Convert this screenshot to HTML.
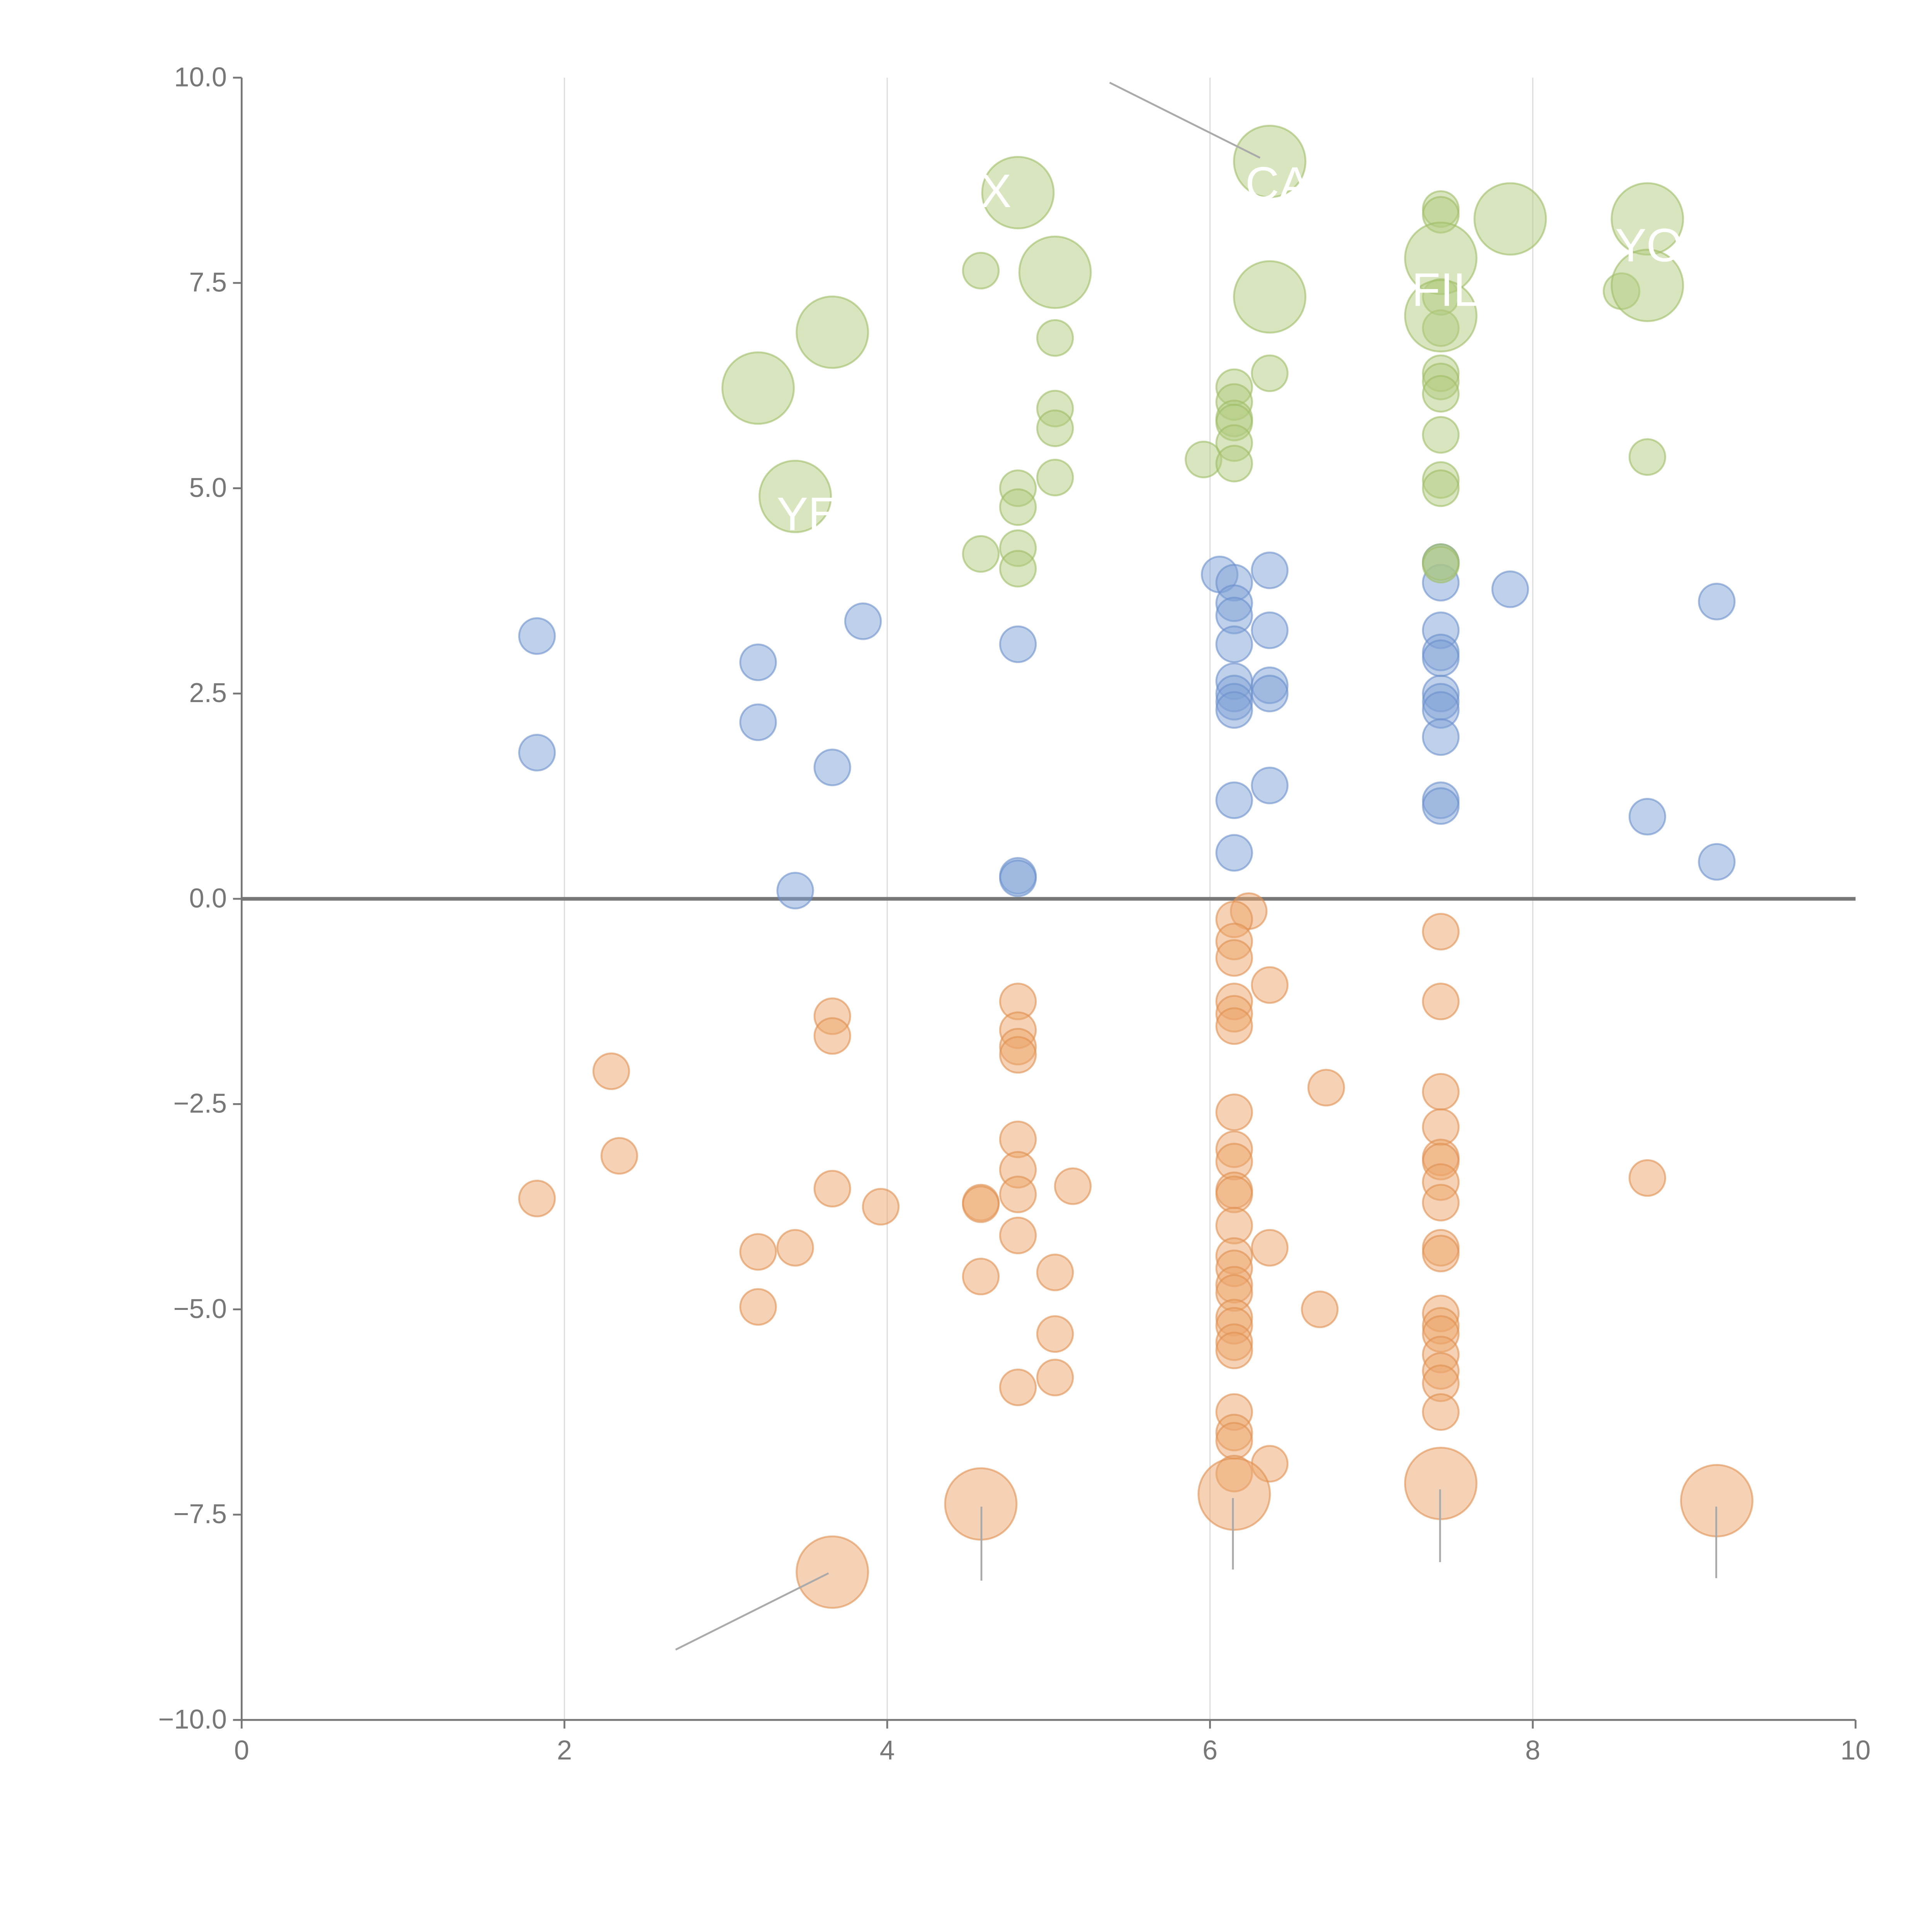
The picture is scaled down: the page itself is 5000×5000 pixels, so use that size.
<!DOCTYPE html>
<html><head><meta charset="utf-8"><style>
html,body{margin:0;padding:0;background:#fff}
svg{display:block}
text{font-family:"Liberation Sans",sans-serif}
</style></head><body>
<svg id="chart" width="5000" height="5000" viewBox="0 0 1567 1567" xmlns="http://www.w3.org/2000/svg">
<g id="grid"></g>
<g id="axes"></g>
<g id="marks"></g>
<g id="leaders"></g>
</svg>
<script>
const xTicks=[0,2,4,6,8,10];
const yTicks=[10,7.5,5,2.5,0,-2.5,-5,-7.5,-10];
const blueX=[1.83,1.83,3.2,3.2,3.43,3.66,3.85,4.81,4.81,4.81,6.06,6.15,6.15,6.15,6.15,6.15,6.15,6.15,6.15,6.15,6.15,6.37,6.37,6.37,6.37,6.37,7.43,7.43,7.43,7.43,7.43,7.43,7.43,7.43,7.43,7.43,7.43,7.86,8.71,9.14,9.14];
const blueY=[3.2,1.78,2.88,2.15,0.1,1.6,3.38,3.1,0.28,0.25,3.95,3.85,3.6,3.45,3.1,2.65,2.5,2.4,2.3,1.2,0.56,4.0,3.27,2.6,2.5,1.38,4.1,3.85,3.27,3.0,2.93,2.5,2.4,2.3,1.97,1.2,1.13,3.77,1.0,3.62,0.45];
const greenX=[4.58,5.04,5.04,5.04,5.04,4.81,4.81,4.81,4.81,4.58,5.96,6.15,6.15,6.15,6.15,6.15,6.15,6.37,7.43,7.43,7.43,7.43,7.43,7.43,7.43,7.43,7.43,7.43,7.43,7.43,8.55,8.71];
const greenY=[7.65,6.83,5.97,5.73,5.13,5.0,4.77,4.27,4.02,4.2,5.35,6.23,6.05,5.85,5.8,5.55,5.3,6.4,8.4,8.33,7.33,6.95,6.4,6.3,6.15,5.65,5.1,5.0,4.1,4.07,7.4,5.38];
const greenBigX=[3.2,3.43,3.66,4.81,5.04,6.37,6.37,7.43,7.43,7.86,8.71,8.71];
const greenBigY=[6.22,4.9,6.9,8.6,7.63,8.98,7.33,7.8,7.1,8.28,8.28,7.47];
const orangeX=[1.83,2.29,2.34,3.2,3.2,3.43,3.66,3.66,3.66,3.96,4.58,4.58,4.58,4.81,4.81,4.81,4.81,4.81,4.81,4.81,4.81,4.81,5.04,5.04,5.04,5.15,6.24,6.15,6.15,6.15,6.15,6.15,6.15,6.15,6.15,6.15,6.15,6.15,6.15,6.15,6.15,6.15,6.15,6.15,6.15,6.15,6.15,6.15,6.15,6.15,6.15,6.37,6.37,6.37,6.72,6.68,7.43,7.43,7.43,7.43,7.43,7.43,7.43,7.43,7.43,7.43,7.43,7.43,7.43,7.43,7.43,7.43,7.43,8.71];
const orangeY=[-3.65,-2.1,-3.13,-4.3,-4.97,-4.25,-1.43,-1.67,-3.53,-3.75,-3.7,-3.72,-4.6,-1.25,-1.6,-1.8,-1.9,-2.93,-3.3,-3.6,-4.1,-5.95,-4.55,-5.3,-5.83,-3.5,-0.15,-0.25,-0.52,-0.72,-1.25,-1.4,-1.55,-2.6,-3.05,-3.2,-3.55,-3.6,-3.98,-4.35,-4.5,-4.7,-4.8,-5.1,-5.2,-5.4,-5.5,-6.25,-6.5,-6.6,-7.0,-1.05,-4.25,-6.88,-2.3,-5.0,-0.4,-1.25,-2.35,-2.78,-3.15,-3.2,-3.45,-3.7,-4.25,-4.32,-5.05,-5.2,-5.3,-5.55,-5.75,-5.9,-6.25,-3.4];
const orangeBigX=[3.66,4.58,6.15,7.43,9.14];
const orangeBigY=[-8.2,-7.37,-7.25,-7.12,-7.33];

const NS="http://www.w3.org/2000/svg";
const X0=196,X1=1505,Y0=1395,Y1=63;
const sx=v=>X0+(v-0)/10*(X1-X0);
const sy=v=>Y0-(v+10)/20*(Y0-Y1);
function mk(tag,attrs,parent){const e=document.createElementNS(NS,tag);for(const k in attrs)e.setAttribute(k,attrs[k]);parent.appendChild(e);return e;}
const grid=document.getElementById('grid'),axes=document.getElementById('axes'),marks=document.getElementById('marks'),leaders=document.getElementById('leaders');

xTicks.forEach(t=>{
  if(t>0&&t<10){const g=mk('line',{x1:sx(t),x2:sx(t),y1:Y1,y2:Y0,stroke:'#dddddd','stroke-width':1},grid);
  
  }
  const tk=mk('line',{x1:sx(t),x2:sx(t),y1:Y0,y2:Y0+7,stroke:'#777','stroke-width':1.5},axes);
  
  
  const lb=mk('text',{x:sx(t),y:Y0+32,'text-anchor':'middle','font-size':22,fill:'#777'},axes);
  lb.textContent=String(t);
  
  
});
yTicks.forEach(t=>{
  const tk=mk('line',{x1:X0-7,x2:X0,y1:sy(t),y2:sy(t),stroke:'#777','stroke-width':1.5},axes);
  
  
  const lb=mk('text',{x:X0-12,y:sy(t)+7,'text-anchor':'end','font-size':22,fill:'#777'},axes);
  lb.textContent=t.toFixed(1).replace('-','\u2212');
  
  
});
const ya=mk('line',{x1:X0,x2:X0,y1:Y1,y2:Y0,stroke:'#777','stroke-width':1.5},axes);


const xa=mk('line',{x1:X0,x2:X1,y1:Y0,y2:Y0,stroke:'#777','stroke-width':1.5},axes);


const zl=mk('line',{x1:X0,x2:X1,y1:sy(0),y2:sy(0),stroke:'#777','stroke-width':3},axes);



function series(xs,ys,r,fill,stroke,name){
  xs.forEach((x,i)=>{
    const c=mk('circle',{cx:sx(x),cy:sy(ys[i]),r:r,fill:fill,'fill-opacity':0.5,stroke:stroke,'stroke-opacity':0.6,'stroke-width':1.5},marks);
    
    
  });
}
series(blueX,blueY,14.5,'#7fa2d6','#6a90cc','blue-point');
series(greenX,greenY,14.5,'#b2cc80','#9ebd66','green-point');
series(greenBigX,greenBigY,29,'#b2cc80','#9ebd66','green-big-point');
series(orangeX,orangeY,14.5,'#eba56b','#e08f50','orange-point');
series(orangeBigX,orangeBigY,29,'#eba56b','#e08f50','orange-big-point');

const ld=[[900,67,1022,128],[548,1338,672,1276],[796,1222,796,1282],[1000,1215,1000,1273],[1168,1208,1168,1267],[1392,1222,1392,1280]];
ld.forEach(l=>{
  const e=mk('line',{x1:l[0],y1:l[1],x2:l[2],y2:l[3],stroke:'#aaa','stroke-width':1.5},leaders);
  
  
});
const labels=[["X",795,168],["CA",1010,162],["YO",1310,212],["FIL",1145,248],["YE",630,430]];
labels.forEach(l=>{
  const t=mk('text',{x:l[1],y:l[2],'font-size':38,fill:'#ffffff'},leaders);
  t.textContent=l[0];
  
  
});
</script>
</body></html>
